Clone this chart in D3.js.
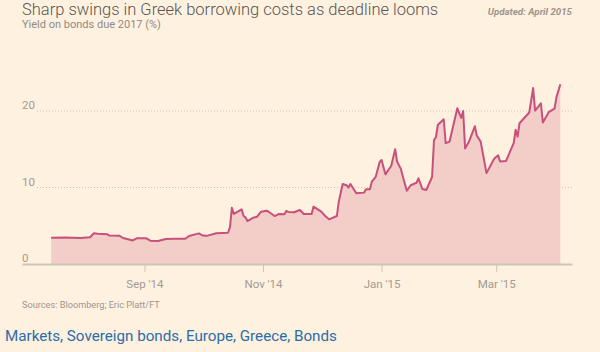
<!DOCTYPE html>
<html>
<head>
<meta charset="utf-8">
<script src="https://cdn.jsdelivr.net/npm/d3@7"></script>
<style>
  body { margin: 0; background: #fff1e0; }
  svg { display: block; font-family: Roboto, "Open Sans", sans-serif; }
</style>
</head>
<body>
<div id="chart"></div>
<script>
// Greek 2017 bond yield (%)
const dates = [
  "2014-07-15","2014-07-22","2014-07-30","2014-08-04","2014-08-06","2014-08-08","2014-08-13","2014-08-14",
  "2014-08-19","2014-08-21","2014-08-26","2014-08-28","2014-09-02","2014-09-04","2014-09-08","2014-09-12",
  "2014-09-17","2014-09-22","2014-09-24","2014-09-29","2014-10-01","2014-10-03","2014-10-08","2014-10-14",
  "2014-10-15","2014-10-16","2014-10-17","2014-10-21","2014-10-22","2014-10-23","2014-10-24","2014-10-27",
  "2014-10-29","2014-10-31","2014-11-03","2014-11-05","2014-11-07","2014-11-09","2014-11-12","2014-11-13",
  "2014-11-14","2014-11-17","2014-11-20","2014-11-22","2014-11-26","2014-11-27","2014-12-01","2014-12-03",
  "2014-12-05","2014-12-09","2014-12-10","2014-12-12","2014-12-14","2014-12-15","2014-12-16","2014-12-19",
  "2014-12-23","2014-12-24","2014-12-26","2014-12-27","2014-12-29","2014-12-31","2015-01-01","2015-01-03",
  "2015-01-06","2015-01-08","2015-01-09","2015-01-11","2015-01-12","2015-01-14","2015-01-16","2015-01-19",
  "2015-01-20","2015-01-22","2015-01-24","2015-01-27","2015-01-28","2015-01-29","2015-01-30","2015-02-02",
  "2015-02-03","2015-02-05","2015-02-09","2015-02-11","2015-02-12","2015-02-13","2015-02-15","2015-02-18",
  "2015-02-19","2015-02-21","2015-02-24","2015-02-28","2015-03-02","2015-03-03","2015-03-06","2015-03-10",
  "2015-03-11","2015-03-12","2015-03-13","2015-03-18","2015-03-20","2015-03-21","2015-03-24","2015-03-25",
  "2015-03-28","2015-03-31","2015-04-01","2015-04-03"
];
const yields = [
  3.44, 3.45, 3.40, 3.49, 4.01, 3.96, 3.88, 3.72,
  3.70, 3.40, 3.08, 3.36, 3.36, 3.05, 3.01, 3.27,
  3.30, 3.30, 3.66, 4.00, 3.72, 3.68, 4.01, 4.09,
  4.80, 7.36, 6.54, 7.15, 6.27, 6.10, 5.62, 6.05,
  6.18, 6.84, 6.97, 6.63, 6.27, 6.53, 6.50, 6.93,
  6.80, 6.76, 7.06, 6.53, 6.53, 7.50, 6.84, 6.27,
  5.84, 6.27, 8.15, 10.46, 10.30, 10.00, 10.46, 9.24,
  9.33, 9.76, 9.76, 10.76, 11.40, 13.30, 13.60, 11.72,
  12.85, 15.00, 13.40, 12.40, 11.40, 9.57, 10.30, 10.62,
  11.20, 9.80, 9.67, 11.37, 16.20, 16.60, 18.20, 18.92,
  15.80, 16.00, 20.35, 19.10, 20.00, 15.10, 16.00, 18.00,
  16.80, 16.00, 11.88, 13.80, 14.20, 13.40, 13.46, 15.80,
  17.55, 16.65, 18.40, 19.80, 23.00, 20.05, 21.00, 18.50,
  19.85, 20.30, 21.80, 23.50
];
const xDomain = ["2014-06-30", "2015-04-09"];
const xTicks = ["2014-09-01", "2014-11-01", "2015-01-01", "2015-03-01"];
const yTicks = [0, 10, 20];

const parse = d3.timeParse("%Y-%m-%d");
const data = dates.map((d, i) => ({date: parse(d), value: yields[i]}));

const W = 600, H = 352;
const plot = {left: 22, right: 572, top: 111, bottom: 264};

const svg = d3.select("#chart")
    .append("svg")
    .attr("width", W)
    .attr("height", H);

svg.append("rect").attr("width", W).attr("height", H).attr("fill", "#fff1e0");

const x = d3.scaleTime()
    .domain(xDomain.map(parse))
    .range([plot.left, plot.right]);

const y = d3.scaleLinear()
    .domain([0, 20])
    .range([plot.bottom, plot.top]);

// Gridlines + y labels
const grid = svg.append("g");
grid.selectAll("line")
    .data(yTicks.filter(d => d > 0))
    .enter().append("line")
    .attr("x1", 37).attr("x2", plot.right)
    .attr("y1", d => y(d)).attr("y2", d => y(d))
    .attr("stroke", "#cfc4b8")
    .attr("stroke-dasharray", "1,2");
grid.selectAll("text")
    .data(yTicks)
    .enter().append("text")
    .attr("x", plot.left)
    .attr("y", d => y(d) - 2)
    .attr("font-size", 11.5)
    .attr("fill", "#a19b95")
    .text(d => d);

// Area + line
svg.append("path")
    .datum(data)
    .attr("fill", "#f3cdc7")
    .attr("d", d3.area()
        .x(d => x(d.date))
        .y0(y(0))
        .y1(d => y(d.value)));

svg.append("path")
    .datum(data)
    .attr("fill", "none")
    .attr("stroke", "#c8507b")
    .attr("stroke-width", 2)
    .attr("stroke-linejoin", "round")
    .attr("d", d3.line()
        .x(d => x(d.date))
        .y(d => y(d.value)));

// X axis
const xAxis = svg.append("g")
    .attr("transform", `translate(0,${plot.bottom})`)
    .call(d3.axisBottom(x)
        .tickValues(xTicks.map(parse))
        .tickFormat(d3.timeFormat("%b '%y"))
        .tickSize(8)
        .tickSizeOuter(0));
xAxis.select(".domain").attr("stroke", "#cdc5ba").attr("stroke-width", 2);
xAxis.selectAll(".tick line").attr("stroke", "#cdc5ba");
xAxis.selectAll(".tick text")
    .attr("y", 16)
    .attr("dy", "0.72em")
    .attr("font-size", 11.5)
    .attr("font-family", "Roboto, sans-serif")
    .attr("fill", "#a19b95");

// Titles and notes
svg.append("text")
    .attr("x", 22).attr("y", 15)
    .attr("font-size", 16.5)
    .attr("font-weight", 300)
    .attr("fill", "#5a5552")
    .text("Sharp swings in Greek borrowing costs as deadline looms");

svg.append("text")
    .attr("x", 22).attr("y", 28)
    .attr("font-size", 11)
    .attr("fill", "#8f8a85")
    .text("Yield on bonds due 2017 (%)");

svg.append("text")
    .attr("x", 572).attr("y", 15)
    .attr("text-anchor", "end")
    .attr("font-size", 9.7)
    .attr("font-style", "italic")
    .attr("font-weight", "bold")
    .attr("fill", "#9c968f")
    .text("Updated: April 2015");

svg.append("text")
    .attr("x", 22).attr("y", 308)
    .attr("font-size", 9.2)
    .attr("fill", "#9c968f")
    .text("Sources: Bloomberg; Eric Platt/FT");

svg.append("text")
    .attr("x", 5).attr("y", 341)
    .attr("font-size", 15.2)
    .attr("fill", "#2b6ca8")
    .text("Markets, Sovereign bonds, Europe, Greece, Bonds");
</script>
</body>
</html>
